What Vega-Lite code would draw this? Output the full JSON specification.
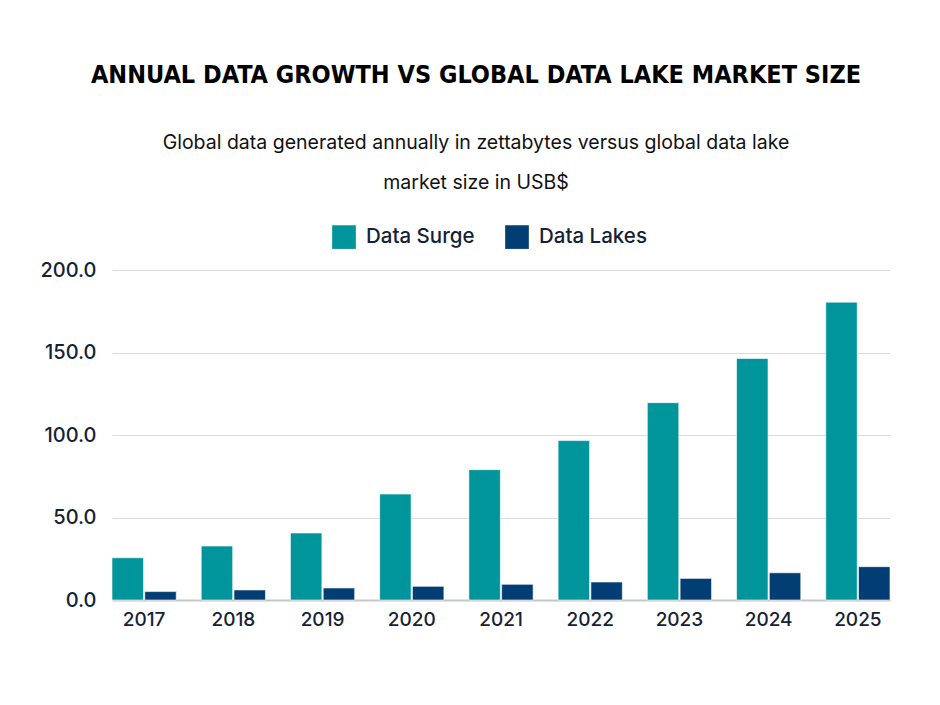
{
  "$schema": "https://vega.github.io/schema/vega-lite/v6.json",
  "width": 778,
  "height": 330,
  "autosize": "none",
  "padding": {"left": 112, "top": 270, "right": 50, "bottom": 105},
  "background": "white",
  "title": {
    "text": "ANNUAL DATA GROWTH VS GLOBAL DATA LAKE MARKET SIZE",
    "subtitle": ["Global data generated annually in  zettabytes versus global data lake", "market size in USB$"],
    "anchor": "middle",
    "frame": "group",
    "dx": -25,
    "font": "DejaVu Sans Condensed",
    "fontSize": 25,
    "fontWeight": "bold",
    "color": "#000000",
    "subtitleFont": "Inter",
    "subtitleFontSize": 19.5,
    "subtitleColor": "#111111",
    "subtitleLineHeight": 40,
    "subtitlePadding": 46,
    "offset": 33
  },
  "data": {
    "values": [
      {"year": "2017", "series": "Data Surge", "value": 25.6},
      {"year": "2018", "series": "Data Surge", "value": 32.7},
      {"year": "2019", "series": "Data Surge", "value": 40.6},
      {"year": "2020", "series": "Data Surge", "value": 64.2},
      {"year": "2021", "series": "Data Surge", "value": 79},
      {"year": "2022", "series": "Data Surge", "value": 96.6},
      {"year": "2023", "series": "Data Surge", "value": 119.6},
      {"year": "2024", "series": "Data Surge", "value": 146.4},
      {"year": "2025", "series": "Data Surge", "value": 180.5},
      {"year": "2017", "series": "Data Lakes", "value": 5.1},
      {"year": "2018", "series": "Data Lakes", "value": 6.1},
      {"year": "2019", "series": "Data Lakes", "value": 7.3},
      {"year": "2020", "series": "Data Lakes", "value": 8.3},
      {"year": "2021", "series": "Data Lakes", "value": 9.5},
      {"year": "2022", "series": "Data Lakes", "value": 10.9},
      {"year": "2023", "series": "Data Lakes", "value": 13.1},
      {"year": "2024", "series": "Data Lakes", "value": 16.5},
      {"year": "2025", "series": "Data Lakes", "value": 20.2}
    ]
  },
  "mark": {"type": "bar", "stroke": "white", "strokeWidth": 0.6},
  "encoding": {
    "x": {
      "field": "year",
      "type": "nominal",
      "title": null,
      "scale": {"paddingInner": 0.28, "paddingOuter": 0},
      "axis": {
        "labelAngle": 0,
        "labelFont": "Inter",
        "labelFontSize": 19,
        "labelFontWeight": 500,
        "labelColor": "#142236",
        "labelPadding": 10,
        "ticks": false,
        "domainColor": "#c3c8cd",
        "domainWidth": 2
      }
    },
    "xOffset": {
      "field": "series",
      "type": "nominal",
      "sort": ["Data Surge", "Data Lakes"],
      "scale": {"paddingInner": 0.04}
    },
    "y": {
      "field": "value",
      "type": "quantitative",
      "title": null,
      "scale": {"domain": [0, 200]},
      "axis": {
        "values": [0, 50, 100, 150, 200],
        "format": ".1f",
        "labelFont": "Inter",
        "labelFontSize": 20,
        "labelFontWeight": 500,
        "labelColor": "#142236",
        "labelPadding": 16,
        "ticks": false,
        "domain": false,
        "gridColor": "#d9dde1",
        "gridWidth": 1.2
      }
    },
    "color": {
      "field": "series",
      "type": "nominal",
      "sort": ["Data Surge", "Data Lakes"],
      "scale": {"domain": ["Data Surge", "Data Lakes"], "range": ["#00959a", "#023e73"]},
      "legend": {
        "title": null,
        "orient": "none",
        "direction": "horizontal",
        "legendX": 220,
        "legendY": -45,
        "symbolType": "square",
        "symbolSize": 560,
        "symbolStrokeWidth": 0,
        "labelFont": "Inter",
        "labelFontSize": 20.5,
        "labelFontWeight": 500,
        "labelColor": "#142236",
        "labelOffset": 10,
        "columnPadding": 30
      }
    }
  },
  "config": {"view": {"stroke": null}}
}
